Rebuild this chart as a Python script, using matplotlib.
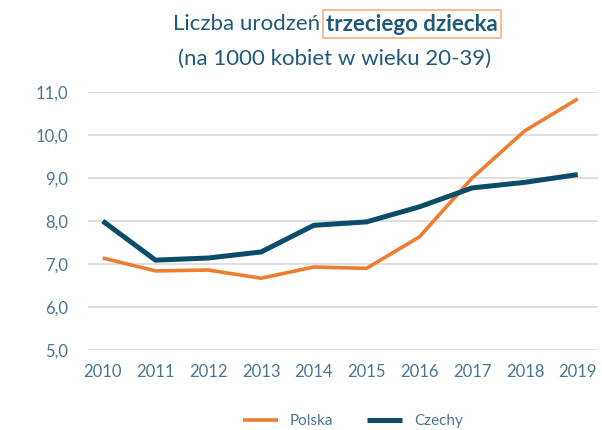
import matplotlib
matplotlib.use("Agg")
import matplotlib.pyplot as plt
from matplotlib.ticker import FuncFormatter

years = [2010, 2011, 2012, 2013, 2014, 2015, 2016, 2017, 2018, 2019]
polska = [7.14, 6.84, 6.86, 6.67, 6.93, 6.90, 7.63, 9.00, 10.10, 10.84]
czechy = [8.00, 7.09, 7.14, 7.28, 7.90, 7.98, 8.33, 8.77, 8.90, 9.08]

ORANGE = "#ED7D31"
TEAL = "#0B4D68"
TEXT = "#1F5B78"
TICK = "#4A7690"

plt.rcParams["font.family"] = ["Lato", "DejaVu Sans"]

fig = plt.figure(figsize=(6.02, 4.30), dpi=100)
ax = fig.add_axes([0.146, 0.186, 0.847, 0.600])

ax.plot(years, polska, color=ORANGE, lw=2.6, label="Polska", solid_capstyle="butt")
ax.plot(years, czechy, color=TEAL, lw=3.6, label="Czechy", solid_capstyle="butt")

ax.set_xlim(2009.72, 2019.38)
ax.set_ylim(5, 11)
ax.set_yticks([5, 6, 7, 8, 9, 10, 11])
ax.set_xticks(years)
ax.yaxis.set_major_formatter(FuncFormatter(lambda v, p: f"{v:.1f}".replace(".", ",")))
ax.grid(axis="y", color="#D9D9D9", lw=1.2)
ax.set_axisbelow(True)
for s in ax.spines.values():
    s.set_visible(False)
ax.tick_params(length=0, labelsize=12, colors=TICK, pad=10)
ax.tick_params(axis="y", pad=14)

fig.text(0.532, 0.944, "Liczba urodzeń", ha="right", va="center",
         fontsize=16, color=TEXT)
fig.text(0.542, 0.944, "trzeciego dziecka", ha="left", va="center",
         fontsize=16, color=TEXT, fontweight="bold",
         bbox=dict(boxstyle="square,pad=0.15", fc="white", ec="#F4B183", lw=1.2))
fig.text(0.555, 0.863, "(na 1000 kobiet w wieku 20-39)", ha="center", va="center",
         fontsize=16, color=TEXT)

leg = ax.legend(loc="center", bbox_to_anchor=(0.52, -0.275), ncol=2,
                frameon=False, fontsize=11, handlelength=2.3, columnspacing=2.2)
for t in leg.get_texts():
    t.set_color(TICK)

fig.savefig("out.png", dpi=100)
